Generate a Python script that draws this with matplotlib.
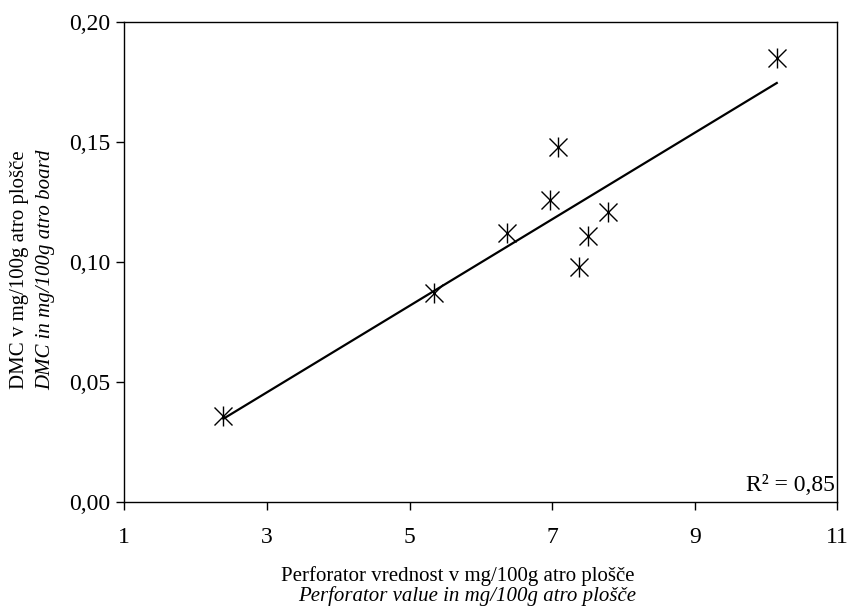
import numpy as np
import matplotlib
matplotlib.use("Agg")
import matplotlib.pyplot as plt
from matplotlib.ticker import FuncFormatter

# data
perforator = [2.39, 5.34, 6.37, 6.97, 7.08, 7.37, 7.51, 7.79, 10.15]
dmc = [0.036, 0.087, 0.112, 0.126, 0.148, 0.098, 0.111, 0.121, 0.185]
x_ticks = [1, 3, 5, 7, 9, 11]
y_ticks = [0.00, 0.05, 0.10, 0.15, 0.20]
r2_label = "R² = 0,85"

plt.rcParams['font.family'] = ['Liberation Serif', 'DejaVu Serif']

fig = plt.figure(figsize=(8.51, 6.16), dpi=100)
ax = fig.add_axes([0.146, 0.185, 0.838, 0.779])

# linear fit
k, n = np.polyfit(perforator, dmc, 1)
xs = np.array([min(perforator), max(perforator)])
ax.plot(xs, k * xs + n, color='black', lw=1.6)

# asterisk markers (X + vertical bar)
ax.plot(perforator, dmc, linestyle='none', marker='x', markersize=13,
        markeredgewidth=1.0, color='black')
ax.plot(perforator, dmc, linestyle='none', marker='|', markersize=15,
        markeredgewidth=1.0, color='black')

ax.set_xlim(1, 11)
ax.set_ylim(0, 0.2)
ax.set_xticks(x_ticks)
ax.set_yticks(y_ticks)
ax.xaxis.set_major_formatter(FuncFormatter(lambda v, p: f"{v:.0f}"))
ax.yaxis.set_major_formatter(FuncFormatter(lambda v, p: f"{v:.2f}".replace('.', ',')))
ax.tick_params(direction='out', length=6, width=1, labelsize=17)
ax.tick_params(axis='x', pad=12)
ax.tick_params(axis='y', pad=4)
for s in ax.spines.values():
    s.set_linewidth(1.0)

ax.text(0.997, 0.012, r2_label, transform=ax.transAxes, ha='right', va='bottom',
        fontsize=17)

# axis labels (Slovene + English, italic)
fig.text(0.538, 0.065, "Perforator vrednost v mg/100g atro plošče",
         ha='center', va='center', fontsize=15)
fig.text(0.549, 0.032, "Perforator value in mg/100g atro plošče",
         ha='center', va='center', fontsize=15, style='italic')
fig.text(0.023, 0.562, "DMC v mg/100g atro plošče", rotation=90,
         ha='center', va='center', fontsize=15)
fig.text(0.054, 0.562, "DMC in mg/100g atro board", rotation=90,
         ha='center', va='center', fontsize=15, style='italic')

fig.savefig("out.png", dpi=100)
